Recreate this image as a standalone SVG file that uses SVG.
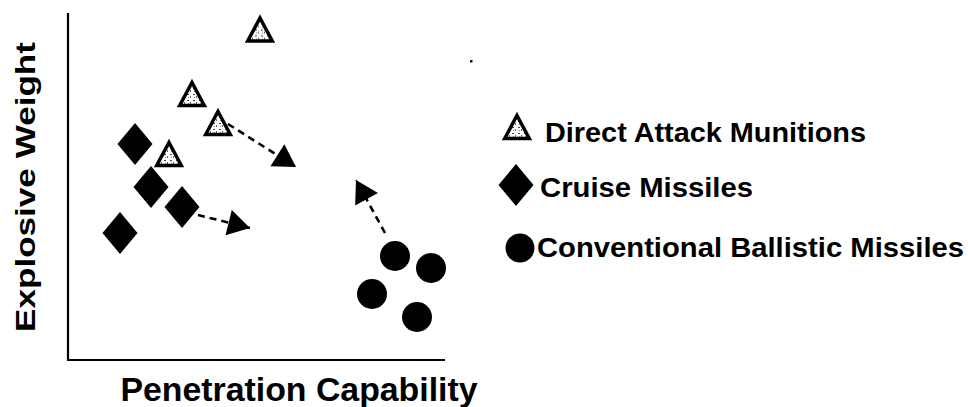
<svg xmlns="http://www.w3.org/2000/svg" xmlns:xlink="http://www.w3.org/1999/xlink" width="968" height="407" viewBox="0 0 968 407">
<style>
.lbl{font-family:"Liberation Sans",Arial,Helvetica,sans-serif;font-weight:bold;fill:#000}
.leg{font-size:28px}
.axis{stroke:#000;stroke-width:2.2;fill:none}
.dash{stroke:#000;stroke-width:2.6;stroke-dasharray:7 5;fill:none}
.tri{fill:url(#speck);stroke:#000;stroke-width:3.5;stroke-linejoin:miter}
.dia{fill:#000}
.dot{fill:#000}
</style>
<defs>
<pattern id="speck" width="6" height="6" patternUnits="userSpaceOnUse">
<rect width="6" height="6" fill="#fff"/>
<rect x="1" y="1" width="2" height="1" fill="#444"/>
<rect x="4" y="3" width="1" height="2" fill="#666"/>
<rect x="2" y="4" width="1" height="1" fill="#888"/>
</pattern>
<polygon id="tri" class="tri" points="0,-10.5 12.3,12.5 -12.3,12.5"/>
<polygon id="dia" class="dia" points="0,-21 17.5,0 0,21 -17.5,0"/>
<marker id="ah" markerUnits="userSpaceOnUse" markerWidth="34" markerHeight="34" viewBox="-26 -17 34 34" refX="0" refY="0" orient="auto">
<path d="M0,0 L-22,-13 L-22,13 Z" fill="#000"/>
</marker>
</defs>
<g id="axes">
<path class="axis" d="M68,13 L68,360 L445,360"/>
</g>
<rect x="470" y="60" width="2.5" height="2.5" fill="#111"/>
<g id="dam">
<use xlink:href="#tri" href="#tri" x="260" y="28.5"/>
<use xlink:href="#tri" href="#tri" x="192" y="93"/>
<use xlink:href="#tri" href="#tri" x="218" y="122"/>
<use xlink:href="#tri" href="#tri" x="169" y="153"/>
</g>
<g id="cruise">
<use xlink:href="#dia" href="#dia" x="135" y="144"/>
<use xlink:href="#dia" href="#dia" x="151" y="187"/>
<use xlink:href="#dia" href="#dia" x="182" y="207"/>
<use xlink:href="#dia" href="#dia" x="120" y="233"/>
</g>
<g id="ballistic">
<circle class="dot" cx="395" cy="256" r="15"/>
<circle class="dot" cx="431" cy="268" r="15"/>
<circle class="dot" cx="372" cy="294" r="15"/>
<circle class="dot" cx="417" cy="317" r="15"/>
</g>
<g id="connectors">
<path class="dash" d="M228,124 L296,167" marker-end="url(#ah)"/>
<path class="dash" d="M198,215 L250,228" marker-end="url(#ah)"/>
<path class="dash" d="M385,233 L356,180" marker-end="url(#ah)"/>
</g>
<g id="legend">
<g id="leg-dam">
<use xlink:href="#tri" href="#tri" x="517" y="126"/>
<text class="lbl leg" x="545" y="142" textLength="321" lengthAdjust="spacingAndGlyphs">Direct Attack Munitions</text>
</g>
<g id="leg-cruise">
<use xlink:href="#dia" href="#dia" x="516" y="185"/>
<text class="lbl leg" x="540" y="197" textLength="213" lengthAdjust="spacingAndGlyphs">Cruise Missiles</text>
</g>
<g id="leg-ballistic">
<circle class="dot" cx="520" cy="248" r="14.5"/>
<text class="lbl leg" x="537" y="257" textLength="427" lengthAdjust="spacingAndGlyphs">Conventional Ballistic Missiles</text>
</g>
</g>
<g id="axis-labels">
<text class="lbl" x="120.5" y="401" font-size="33.5" textLength="357" lengthAdjust="spacingAndGlyphs">Penetration Capability</text>
<text class="lbl" transform="translate(35,332) rotate(-90)" x="0" y="0" font-size="28" textLength="290" lengthAdjust="spacingAndGlyphs">Explosive Weight</text>
</g>
</svg>
